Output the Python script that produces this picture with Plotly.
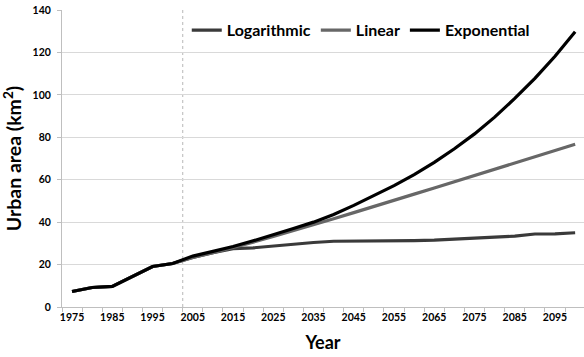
import plotly.graph_objects as go

years = [1975, 1980, 1985, 1990, 1995, 2000, 2005, 2010, 2015, 2020, 2025, 2030, 2035,
         2040, 2045, 2050, 2055, 2060, 2065, 2070, 2075, 2080, 2085, 2090, 2095, 2100]

logarithmic = [7.3, 9.2, 9.7, 14.2, 19.1, 20.5, 23.3, 25.6, 27.5, 27.9, 28.8, 29.4, 30.4,
               31.0, 31.0, 31.2, 31.3, 31.3, 31.5, 32.1, 32.5, 32.9, 33.4, 34.4, 34.5, 35.0]
linear = [7.3, 9.2, 9.7, 14.2, 19.1, 20.5, 23.3, 25.6, 28.0, 30.6, 33.2, 35.9, 38.7,
          41.6, 44.5, 47.5, 50.3, 53.2, 56.1, 59.0, 62.0, 64.9, 67.8, 70.8, 73.8, 76.7]
exponential = [7.3, 9.2, 9.7, 14.2, 19.1, 20.5, 24.0, 26.2, 28.5, 31.2, 34.0, 37.0, 40.0,
               43.6, 47.9, 52.5, 57.2, 62.4, 68.2, 74.6, 81.6, 89.5, 98.3, 107.8, 118.2, 129.7]

x_tick_labels = [1975, 1985, 1995, 2005, 2015, 2025, 2035, 2045, 2055, 2065, 2075, 2085, 2095]
y_tick_values = [0, 20, 40, 60, 80, 100, 120, 140]
projection_start = 2002.5

FONT = "Lato"

fig = go.Figure()
series = [
    ("Logarithmic", logarithmic, "#3a3a3a"),
    ("Linear", linear, "#676767"),
    ("Exponential", exponential, "#000000"),
]
for name, vals, color in series:
    fig.add_trace(go.Scatter(x=years, y=vals, mode="lines", name=name,
                             line=dict(color=color, width=3.2)))

fig.add_shape(type="line", xref="x", yref="y", x0=projection_start, x1=projection_start,
              y0=0, y1=140, line=dict(color="#b8b8b8", width=1, dash="dot"), layer="below")

fig.update_layout(
    width=584, height=357,
    margin=dict(l=62, r=0, t=10, b=50),
    paper_bgcolor="white", plot_bgcolor="white",
    font=dict(family=FONT, color="#000000", weight="bold"),
    showlegend=True,
    legend=dict(orientation="h", x=0.239, xanchor="left", y=0.932, yanchor="middle",
                font=dict(family=FONT, size=16, weight="bold"),
                bgcolor="rgba(0,0,0,0)", itemwidth=30),
    xaxis=dict(
        range=[1972.5, 2102.2],
        tickmode="array", tickvals=x_tick_labels,
        ticks="", showgrid=False, zeroline=False,
        showline=True, linecolor="#bfbfbf", linewidth=1,
        tickfont=dict(family=FONT, size=10.5, weight="bold"),
        minor=dict(tickmode="linear", tick0=1972.5, dtick=5, ticks="outside",
                   ticklen=4, tickcolor="#bfbfbf", showgrid=False),
        title=dict(text="Year", font=dict(family=FONT, size=18, weight="bold"), standoff=14),
    ),
    yaxis=dict(
        range=[0, 140],
        tickmode="array", tickvals=y_tick_values,
        ticks="outside", ticklen=4, tickcolor="#bfbfbf",
        showgrid=True, gridcolor="#d9d9d9", gridwidth=1, zeroline=False,
        showline=True, linecolor="#bfbfbf", linewidth=1,
        tickfont=dict(family=FONT, size=10.5, weight="bold"),
        ticklabelstandoff=4,
        title=dict(text="Urban area (km<sup>2</sup>)", font=dict(family=FONT, size=19.5, weight="bold"),
                   standoff=12),
    ),
)

fig.write_html("out.html")
